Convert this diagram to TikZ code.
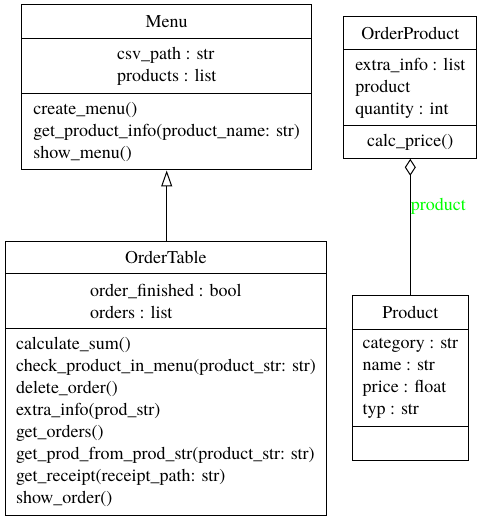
\documentclass[tikz,border=0pt]{standalone}
\usepackage{fontspec}
\newfontfamily\umlfont{texgyretermes-regular.otf}
\usetikzlibrary{arrows.meta}
\tikzset{
  umlbox/.style={draw, line width=1pt, inner sep=0pt},
  txt/.style={align=left, inner sep=0pt, font=\umlfont\fontsize{18}{22}\selectfont},
  link/.style={line width=1pt}
}

\begin{document}
\begin{tikzpicture}[x=1pt, y=-1pt]
\useasboundingbox (0,0) rectangle (482,521);
% Menu
\node [umlbox, minimum width=290pt, minimum height=165pt] (menu) at (166.7,87.5) {};
\draw [link] (21.7,38.3) -- (311.7,38.3);
\draw [link] (21.7,94) -- (311.7,94);
\node [txt] (menutitle) at (166.7,21.5) {Menu};
\node [txt] (menuattr) at (166.7,66) {csv\_path : str\\products : list};
\node [txt] (menuops) at (166.7,132) {create\_menu()\\get\_product\_info(product\_name: str)\\show\_menu()};
% OrderTable
\node [umlbox, minimum width=321.7pt, minimum height=273.3pt] (ordertable) at (165.9,378.4) {};
\draw [link] (5,273.3) -- (326.7,273.3);
\draw [link] (5,328.3) -- (326.7,328.3);
\node [txt] (tabletitle) at (165.9,257.5) {OrderTable};
\node [txt] (tableattr) at (165.9,301) {order\_finished : bool\\orders : list};
\node [txt] (tableops) at (165.9,421.7) {calculate\_sum()\\check\_product\_in\_menu(product\_str: str)\\delete\_order()\\extra\_info(prod\_str)\\get\_orders()\\get\_prod\_from\_prod\_str(product\_str: str)\\get\_receipt(receipt\_path: str)\\show\_order()};
% OrderProduct
\node [umlbox, minimum width=132.7pt, minimum height=141.6pt] (orderproduct) at (410.3,87.5) {};
\draw [link] (344,50) -- (476.7,50);
\draw [link] (344,126) -- (476.7,126);
\node [txt] (optitle) at (410.3,33.3) {OrderProduct};
\node [txt] (opattr) at (410.3,88) {extra\_info : list\\product\\quantity : int};
\node [txt] (opops) at (410.3,142) {calc\_price()};
% Product
\node [umlbox, minimum width=116pt, minimum height=165pt] (product) at (410.3,377.5) {};
\draw [link] (352.3,329.3) -- (468.3,329.3);
\draw [link] (352.3,426.7) -- (468.3,426.7);
\node [txt] (prodtitle) at (410.3,312) {Product};
\node [txt] (prodattr) at (410.3,378) {category : str\\name : str\\price : float\\typ : str};
% connectors
\draw [link, -{Triangle[open, length=16pt, width=11pt]}] (menu.south |- ordertable.north) -- (menu.south);
\draw [link, {Diamond[open, length=17pt, width=11pt]}-] (orderproduct.south) -- node [txt, pos=0.35, anchor=west, text=green] (prodlabel) {product} (product.north);
\end{tikzpicture}
\end{document}
